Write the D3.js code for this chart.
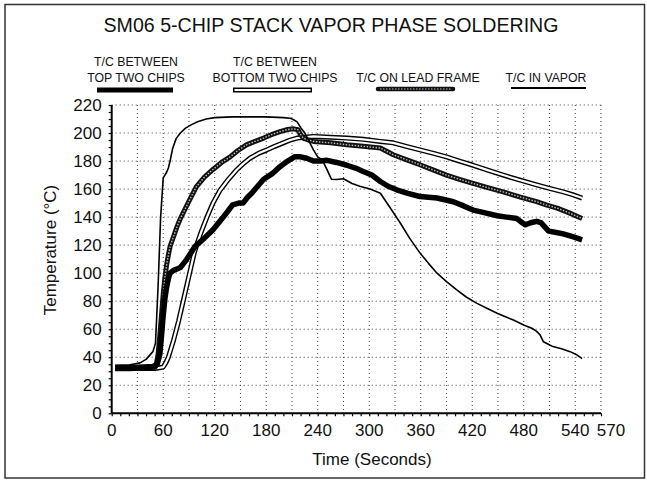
<!DOCTYPE html>
<html><head><meta charset="utf-8">
<script src="https://cdn.jsdelivr.net/npm/d3@7"></script>
<style>
html,body{margin:0;padding:0;background:#fff;}
svg{display:block;font-family:"Liberation Sans",Arial,Helvetica,sans-serif;}
</style></head>
<body>
<svg id="chart" width="647" height="480"></svg>
<script>
// ---- data ----
const title = "SM06 5-CHIP STACK VAPOR PHASE SOLDERING";
const xLabel = "Time (Seconds)";
const yLabel = "Temperature (°C)";
const xTickLabels = [0, 60, 120, 180, 240, 300, 360, 420, 480, 540, 570];
const yTickLabels = [0, 20, 40, 60, 80, 100, 120, 140, 160, 180, 200, 220];
const seriesNames = [["T/C BETWEEN", "TOP TWO CHIPS"], ["T/C BETWEEN", "BOTTOM TWO CHIPS"], ["T/C ON LEAD FRAME"], ["T/C IN VAPOR"]];

const topTime = [4,20,40,50,53,56,58,60,62,64,66,68,72,76,80,87,97,108,118,130,141,148,153,158,163,170,177,187,196,205,213,220,227,235,243,251,262,274,284,293,303,313,322,332,345,359,379,398,410,421,435,449,460,472,478,482,488,495,500,509,518,526,537,548];
const topTemp = [32,32,32.5,33,35,42,55,70,82,90,96,100,102,103,104,109.5,119,125,131,140,148.8,150,150,154,157,162,167,171,176,180,183,183,182,180,180,180.5,179,177,175,172.6,170,165.4,162,159.5,157,154.7,153.6,151,148,145,143,141,140,139,136,134.5,136,137,136,130,129,128,126,123.8];

const bottomTime = [4,30,50,56,60,63,66,69,72,75,78,81,84,87,90,93,96,100,104,111,118,126,136,146,153,161,171,181,190,200,208,216,225,235,255,274,293,313,328,343,359,375,390,405,421,438,456,475,495,510,526,537,548];
const bottomTemp = [32,32,32,32.5,33,36,40,46,52,59,66,74,82,90,98,106,114,122,129,140,150,159,167,174,178,182,185.5,188,190.5,193,195,196.4,197,197.6,197,196.4,195.5,194,193,190.5,188,185.5,183,180,177,173.5,170,166.5,163,160.5,158,156,153.6];

const leadTime = [4,30,48,52,54,56,58,60,62,64,66,68,72,76,80,87,93,99,108,118,128,138,147,157,167,177,186,196,205,212,217,220,223,229,235,255,274,293,313,328,343,359,375,390,405,421,438,456,475,495,507,519,533,548];
const leadTemp = [33,33,33.5,35,42,55,70,85,97,106,113,119,126,133,139,147.6,155,162,168.5,174,179,183,187.5,191.6,194,196.4,198.8,201,202.5,203,202.3,199,196.4,195,194,193,191.6,190.5,189.3,184.5,181,177.4,173.5,170,167,164,161,158,154.5,151,148.5,146.4,143,139];

const vaporTime = [4,20,33,40,48,51,54,57,60,62,64,66,68,71,75,80,86,93,100,110,120,140,160,180,200,208,212,216,220,225,230,235,240,245,250,256,262,270,280,289,301,313,324,336,347,359,369,379,390,402,413,425,437,449,458,468,480,490,495,499,503,508,514,524,534,541,548];
const vaporTemp = [34,34.5,36,38.5,44,50,90,140,168,170,172,175,180,189,196,200,203.5,206,208,210,211,211.5,211.5,211.5,211,210.5,209.5,208,204,200,194,188,183,181,175,167,166.8,167.4,164,162,160,157,147,136,125,114.5,107,100,94,88,83,78.6,75,71.4,69,66.6,63,60.5,58.5,56,51,49.5,47.6,46,44,42,39];

// ---- layout ----
const svg = d3.select("#chart");
const L = 111.7, R = 601, T = 105, B = 413.3;
const x = d3.scaleLinear().domain([0, 570]).range([L, R]);
const y = d3.scaleLinear().domain([0, 220]).range([B, T]);

// frame
svg.append("rect").attr("x", 5).attr("y", 4.5).attr("width", 639.5).attr("height", 473.5)
  .attr("fill", "none").attr("stroke", "#333").attr("stroke-width", 1.5);

// title
svg.append("text").attr("transform", "translate(331,32) scale(1,1.07)").attr("text-anchor", "middle")
  .attr("font-size", 19.6).attr("fill", "#111").text(title);

// grid
const g = svg.append("g");
g.selectAll(".hg").data(d3.range(20, 221, 20)).join("line")
  .attr("x1", L).attr("x2", R).attr("y1", d => y(d)).attr("y2", d => y(d))
  .attr("stroke", "#444").attr("stroke-width", 1).attr("stroke-dasharray", "1,3");
g.selectAll(".vg").data(d3.range(30, 571, 30)).join("line")
  .attr("x1", d => x(d)).attr("x2", d => x(d)).attr("y1", T).attr("y2", B)
  .attr("stroke", "#444").attr("stroke-width", 1).attr("stroke-dasharray", "1,3");

// axes
const yAxis = d3.axisLeft(y).tickValues(d3.range(0, 221, 5)).tickSize(3).tickFormat("");
const ya = svg.append("g").attr("transform", `translate(${L},0)`).call(yAxis);
ya.select(".domain").attr("stroke", "#000").attr("stroke-width", 2).attr("d", `M0,${T}V${B}`);
ya.selectAll("line").attr("stroke", "#000").attr("stroke-width", 1.2);

const xAxis = d3.axisBottom(x).tickValues(d3.range(0, 571, 10)).tickSize(3).tickFormat("");
const xa = svg.append("g").attr("transform", `translate(0,${B})`).call(xAxis);
xa.select(".domain").attr("stroke", "#000").attr("stroke-width", 2).attr("d", `M${L},0H${R}`);
xa.selectAll("line").attr("stroke", "#000").attr("stroke-width", 1.2);

// tick labels
svg.append("g").selectAll("text").data(yTickLabels).join("text")
  .attr("x", L - 10).attr("y", d => y(d) + 6).attr("text-anchor", "end")
  .attr("font-size", 17).attr("fill", "#111").text(d => d);
svg.append("g").selectAll("text").data(xTickLabels).join("text")
  .attr("x", d => d === 570 ? x(d) + 10 : x(d)).attr("y", 436).attr("text-anchor", "middle")
  .attr("font-size", 17).attr("fill", "#111").text(d => d);

// axis titles
svg.append("text").attr("x", 372).attr("y", 465).attr("text-anchor", "middle")
  .attr("font-size", 17).attr("fill", "#111").text(xLabel);
svg.append("text").attr("transform", "translate(56,250) rotate(-90)").attr("text-anchor", "middle")
  .attr("font-size", 17).attr("fill", "#111").text(yLabel);

// lines
const line = d3.line().x(d => x(d[0])).y(d => y(d[1])).curve(d3.curveLinear);
const zip = (a, b) => a.map((v, i) => [v, b[i]]);
const lg = svg.append("g").attr("fill", "none").attr("stroke-linejoin", "round").attr("stroke-linecap", "butt");

const vap = zip(vaporTime, vaporTemp);
const bot = zip(bottomTime, bottomTemp);
const lead = zip(leadTime, leadTemp);
const top2 = zip(topTime, topTemp);

lg.append("path").attr("d", line(bot)).attr("stroke", "#000").attr("stroke-width", 5);
lg.append("path").attr("d", line(bot)).attr("stroke", "#fff").attr("stroke-width", 2.2);
lg.append("path").attr("d", line(lead)).attr("stroke", "#111").attr("stroke-width", 5);
lg.append("path").attr("d", line(lead)).attr("stroke", "#bbb").attr("stroke-width", 1.4).attr("stroke-dasharray", "1.5,1.5");
lg.append("path").attr("d", line(top2)).attr("stroke", "#000").attr("stroke-width", 5.5);
lg.append("path").attr("d", line(vap)).attr("stroke", "#000").attr("stroke-width", 1.6);

// legend
const legX = [136, 275, 418, 546];
const swX = [[97, 173], [233, 312], [378, 453], [511, 586]];
const leg = svg.append("g").attr("font-size", 12.3).attr("fill", "#111").attr("text-anchor", "middle");
seriesNames.forEach((lines, i) => {
  lines.forEach((s, j) => {
    const by = lines.length === 2 ? (j === 0 ? 66 : 82) : 82;
    leg.append("text").attr("transform", `translate(${legX[i]},${by}) scale(1,1.1)`).text(s);
  });
});
const sw = svg.append("g").attr("fill", "none");
const swY = 90;
sw.append("line").attr("x1", swX[0][0]).attr("x2", swX[0][1]).attr("y1", swY).attr("y2", swY).attr("stroke", "#000").attr("stroke-width", 5);
sw.append("line").attr("x1", swX[1][0]).attr("x2", swX[1][1]).attr("y1", swY).attr("y2", swY).attr("stroke", "#000").attr("stroke-width", 5);
sw.append("line").attr("x1", swX[1][0] + 1.5).attr("x2", swX[1][1] - 1.5).attr("y1", swY).attr("y2", swY).attr("stroke", "#fff").attr("stroke-width", 2.2);
sw.append("line").attr("x1", swX[2][0]).attr("x2", swX[2][1]).attr("y1", swY - 1).attr("y2", swY - 1).attr("stroke", "#111").attr("stroke-width", 4.5).attr("stroke-linecap", "round");
sw.append("line").attr("x1", swX[2][0] + 2).attr("x2", swX[2][1] - 2).attr("y1", swY - 1).attr("y2", swY - 1).attr("stroke", "#bbb").attr("stroke-width", 1.2).attr("stroke-dasharray", "1.5,1.5");
sw.append("line").attr("x1", swX[3][0]).attr("x2", swX[3][1]).attr("y1", swY - 2).attr("y2", swY - 2).attr("stroke", "#000").attr("stroke-width", 1.8);
</script>
</body></html>
